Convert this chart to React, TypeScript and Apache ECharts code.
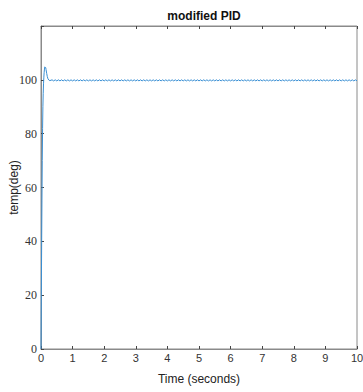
import React, { useEffect, useRef } from "react";
import * as echarts from "echarts";

const transientT = [0, 0.01, 0.02, 0.03, 0.04, 0.05, 0.06, 0.07, 0.08, 0.09, 0.1, 0.11, 0.12, 0.13, 0.14, 0.15, 0.16, 0.18, 0.2, 0.22, 0.25, 0.28, 0.3, 0.35];
const transientY = [0, 20, 38, 55, 70, 82, 90, 95, 98.5, 101, 102.8, 104, 104.8, 105, 104.9, 104.5, 103.8, 102.4, 101.2, 100.4, 99.9, 99.7, 99.8, 100];

const rippleStart = 0.4;
const rippleStep = 0.05;
const rippleY = [
  99.6, 100.0, 99.6, 100.0, 99.6, 100.0, 99.6, 100.0, 99.6, 100.0,
  99.6, 100.0, 99.6, 100.0, 99.6, 100.0, 99.6, 100.0, 99.6, 100.0,
  99.6, 100.0, 99.6, 100.0, 99.6, 100.0, 99.6, 100.0, 99.6, 100.0,
  99.6, 100.0, 99.6, 100.0, 99.6, 100.0, 99.6, 100.0, 99.6, 100.0,
  99.6, 100.0, 99.6, 100.0, 99.6, 100.0, 99.6, 100.0, 99.6, 100.0,
  99.6, 100.0, 99.6, 100.0, 99.6, 100.0, 99.6, 100.0, 99.6, 100.0,
  99.6, 100.0, 99.6, 100.0, 99.6, 100.0, 99.6, 100.0, 99.6, 100.0,
  99.6, 100.0, 99.6, 100.0, 99.6, 100.0, 99.6, 100.0, 99.6, 100.0,
  99.6, 100.0, 99.6, 100.0, 99.6, 100.0, 99.6, 100.0, 99.6, 100.0,
  99.6, 100.0, 99.6, 100.0, 99.6, 100.0, 99.6, 100.0, 99.6, 100.0,
  99.6, 100.0, 99.6, 100.0, 99.6, 100.0, 99.6, 100.0, 99.6, 100.0,
  99.6, 100.0, 99.6, 100.0, 99.6, 100.0, 99.6, 100.0, 99.6, 100.0,
  99.6, 100.0, 99.6, 100.0, 99.6, 100.0, 99.6, 100.0, 99.6, 100.0,
  99.6, 100.0, 99.6, 100.0, 99.6, 100.0, 99.6, 100.0, 99.6, 100.0,
  99.6, 100.0, 99.6, 100.0, 99.6, 100.0, 99.6, 100.0, 99.6, 100.0,
  99.6, 100.0, 99.6, 100.0, 99.6, 100.0, 99.6, 100.0, 99.6, 100.0,
  99.6, 100.0, 99.6, 100.0, 99.6, 100.0, 99.6, 100.0, 99.6, 100.0,
  99.6, 100.0, 99.6, 100.0, 99.6, 100.0, 99.6, 100.0, 99.6, 100.0,
  99.6, 100.0, 99.6, 100.0, 99.6, 100.0, 99.6, 100.0, 99.6, 100.0,
  99.6, 100.0, 99.6
];

const xTicks = [0, 1, 2, 3, 4, 5, 6, 7, 8, 9, 10];
const yTicks = [0, 20, 40, 60, 80, 100, 120];

export default function App() {
  const ref = useRef<HTMLDivElement>(null);
  useEffect(() => {
    if (!ref.current) return;
    const chart = echarts.init(ref.current, undefined, { renderer: "svg" });
    const data: number[][] = transientT.map((t, i) => [t, transientY[i]]);
    rippleY.forEach((v, i) => {
      const t = +(rippleStart + i * rippleStep).toFixed(2);
      if (t <= 10) data.push([t, v]);
    });
    const axisLine = { show: true, lineStyle: { color: "#8a8a8a", width: 1 } };
    chart.setOption({
      animation: false,
      backgroundColor: "#ffffff",
      title: {
        text: "modified PID",
        left: 199,
        textAlign: "center",
        top: 5,
        textStyle: { fontFamily: "Liberation Sans", fontWeight: "bold", fontSize: 12, color: "#111" },
      },
      grid: {
        left: 41, right: 6, top: 26, bottom: 43,
        containLabel: false, outerBoundsMode: "none",
        show: true, borderColor: "#8a8a8a", borderWidth: 1,
      },
      xAxis: [
        {
          type: "value",
          min: xTicks[0],
          max: xTicks[xTicks.length - 1],
          interval: 1,
          axisLine,
          axisTick: { show: true, inside: true, length: 3, lineStyle: { color: "#444" } },
          splitLine: { show: false },
          axisLabel: { fontFamily: "Liberation Sans", fontSize: 11, color: "#333", margin: 3 },
          name: "Time (seconds)",
          nameLocation: "middle",
          nameGap: 24,
          nameMoveOverlap: false,
          nameTextStyle: { fontFamily: "Liberation Sans", fontSize: 12, color: "#222" },
        },
        {
          type: "value",
          position: "top",
          min: 0,
          max: 10,
          interval: 1,
          axisLine,
          axisTick: { show: true, inside: true, length: 3, lineStyle: { color: "#444" } },
          axisLabel: { show: false },
          splitLine: { show: false },
        },
      ],
      yAxis: [
        {
          type: "value",
          min: yTicks[0],
          max: yTicks[yTicks.length - 1],
          interval: 20,
          axisLine,
          axisTick: { show: true, inside: true, length: 3, lineStyle: { color: "#444" } },
          splitLine: { show: false },
          axisLabel: {
            fontFamily: "Liberation Serif",
            fontSize: 12,
            color: "#333",
            margin: 4,
            formatter: (v: number) => (v === 120 ? "" : String(v)),
          },
          name: "temp(deg)",
          nameLocation: "middle",
          nameGap: 21,
          nameMoveOverlap: false,
          nameTextStyle: { fontFamily: "Liberation Sans", fontSize: 12, color: "#222" },
        },
      ],
      series: [
        {
          type: "line",
          data,
          showSymbol: false,
          symbol: "none",
          lineStyle: { color: "#3a8fd3", width: 1 },
        },
      ],
    });
    return () => chart.dispose();
  }, []);
  return <div ref={ref} style={{ width: 363, height: 392, position: "absolute", left: 0, top: 0 }} />;
}
